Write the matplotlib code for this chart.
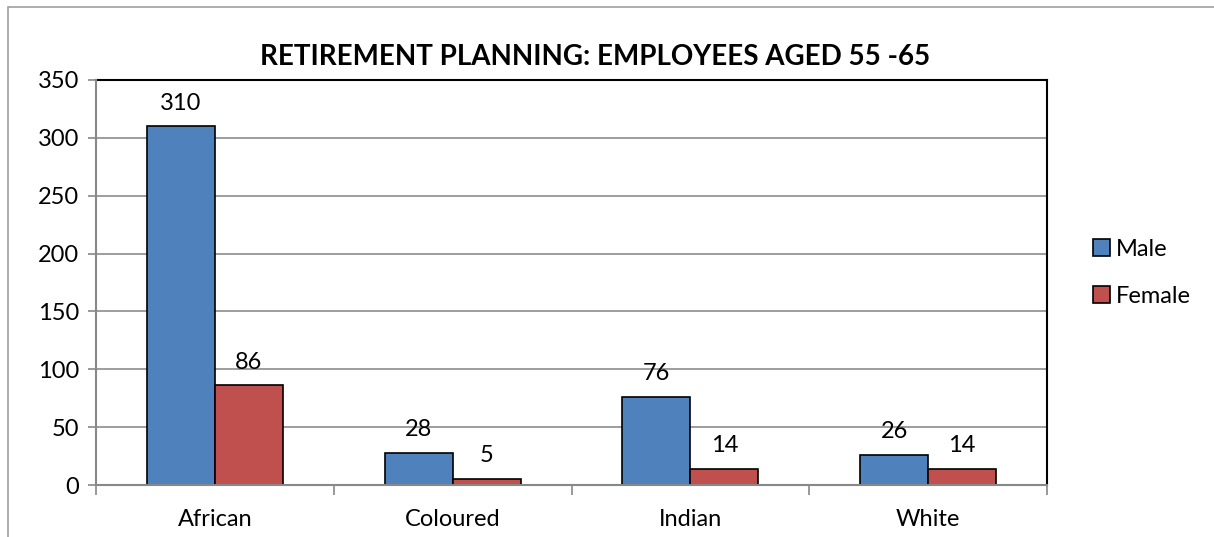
import numpy as np
import matplotlib.pyplot as plt
from matplotlib.patches import Rectangle

plt.rcParams['font.family'] = ['Lato', 'DejaVu Sans']

categories = ['African', 'Coloured', 'Indian', 'White']
male = [310, 28, 76, 26]
female = [86, 5, 14, 14]

fig = plt.figure(figsize=(12.14, 5.37), dpi=100)
ax = fig.add_axes([96 / 1214, 52 / 537, 951 / 1214, 405 / 537])

# outer chart frame (right and bottom edges run off the canvas)
fig.patches.append(Rectangle((8 / 1214, -0.1), 1.1, (530 / 537) + 0.1,
                             transform=fig.transFigure, fill=False,
                             edgecolor='#a0a0a0', linewidth=1.2))

x = np.arange(len(categories))
w = 0.286
b1 = ax.bar(x - w / 2, male, w, color='#4f81bd', edgecolor='black', linewidth=1.2, label='Male', zorder=3)
b2 = ax.bar(x + w / 2, female, w, color='#c0504d', edgecolor='black', linewidth=1.2, label='Female', zorder=3)

for bars, vals in ((b1, male), (b2, female)):
    for r, v in zip(bars, vals):
        ax.text(r.get_x() + r.get_width() / 2, v + 11, str(v), ha='center', va='bottom', fontsize=17)

ax.set_xlim(-0.5, 3.5)
ax.set_ylim(0, 350)
ax.set_yticks(range(0, 351, 50))
ax.set_xticks(x)
ax.set_xticklabels(categories, fontsize=17)
ax.tick_params(axis='y', labelsize=17, direction='out', length=6, color='#888888', width=1.2, pad=6)
ax.tick_params(axis='x', length=0, pad=17)
ax.set_xticks(np.arange(-0.5, 4, 1), minor=True)
ax.tick_params(axis='x', which='minor', length=7, color='#888888', width=1.2, direction='out')
ax.grid(axis='y', color='#8c8c8c', linewidth=1.2, zorder=0)

for s in ('left', 'bottom'):
    ax.spines[s].set_color('#888888')
    ax.spines[s].set_linewidth(1.5)
    ax.spines[s].set_zorder(4)
for s in ('top', 'right'):
    ax.spines[s].set_color('black')
    ax.spines[s].set_linewidth(1.5)

fig.text(595 / 1214, 1 - 57 / 537, 'RETIREMENT PLANNING: EMPLOYEES AGED 55 -65',
         ha='center', va='center', fontsize=20, fontweight='bold')

fig.legend(handles=[b1, b2], loc='center left', bbox_to_anchor=(1072 / 1214, 1 - 273 / 537),
           frameon=False, fontsize=17, handlelength=0.7, handleheight=0.7,
           handletextpad=0.25, labelspacing=1.1)

fig.savefig('out.png', dpi=100)
